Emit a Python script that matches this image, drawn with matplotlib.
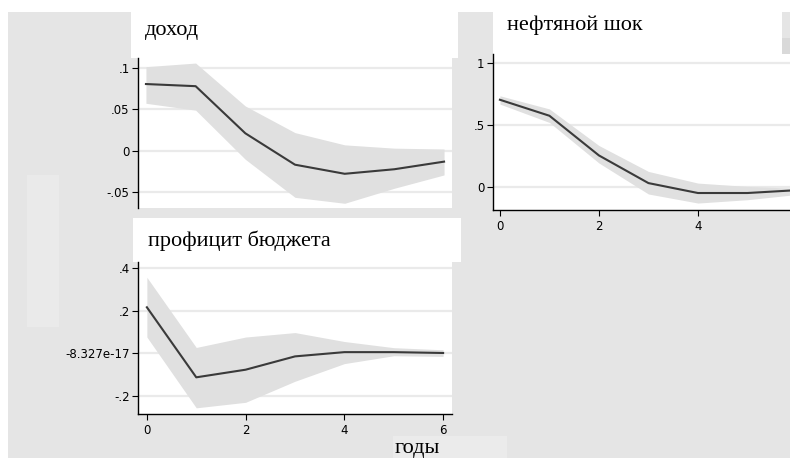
import numpy as np
import matplotlib.pyplot as plt
from matplotlib.patches import Rectangle

W, H = 790, 458

steps = [0, 1, 2, 3, 4, 5, 6]

# доход
income_irf = [0.0806, 0.078, 0.021, -0.017, -0.028, -0.0225, -0.0133]
income_hi = [0.1016, 0.106, 0.054, 0.0218, 0.007, 0.003, 0.002]
income_lo = [0.0573, 0.049, -0.0105, -0.0565, -0.0637, -0.0455, -0.0294]

# нефтяной шок
oil_irf = [0.704, 0.575, 0.255, 0.032, -0.048, -0.048, -0.025]
oil_hi = [0.736, 0.63, 0.335, 0.126, 0.032, 0.005, -0.01]
oil_lo = [0.669, 0.521, 0.194, -0.056, -0.129, -0.102, -0.06]

# профицит бюджета
surplus_irf = [0.217, -0.1125, -0.0766, -0.014, 0.006, 0.006, 0.002]
surplus_hi = [0.358, 0.028, 0.077, 0.098, 0.056, 0.027, 0.017]
surplus_lo = [0.077, -0.256, -0.23, -0.131, -0.048, -0.011, -0.014]

income_yticks = [0.1, 0.05, 0.0, -0.05]
income_ylabels = [".1", ".05", "0", "-.05"]
oil_yticks = [1.0, 0.5, 0.0]
oil_ylabels = ["1", ".5", "0"]
oil_xticks = [0, 2, 4]
surplus_yticks = [0.4, 0.2, -8.327e-17, -0.2]
surplus_ylabels = [".4", ".2", "-8.327e-17", "-.2"]
surplus_xticks = [0, 2, 4, 6]

BG = "#e5e5e5"
BAND = "#e0e0e0"
GRID = "#eaeaea"
LINE = "#3a3a3a"
TICK_FONT = dict(fontsize=8.5, family="DejaVu Sans")


def box(x0, y0, x1, y1):
    # pixel box (top-left origin) -> figure fraction rect
    return [x0 / W, 1 - y1 / H, (x1 - x0) / W, (y1 - y0) / H]


def add_rect(fig, x0, y0, x1, y1, color):
    l, b, w, h = box(x0, y0, x1, y1)
    fig.add_artist(Rectangle((l, b), w, h, transform=fig.transFigure,
                             facecolor=color, edgecolor="none", zorder=-5))


def panel(fig, rect, irf, lo, hi, xlim, ylim, yticks, ylabels, xticks):
    ax = fig.add_axes(box(*rect))
    ax.set_facecolor("white")
    ax.fill_between(steps, lo, hi, color=BAND, linewidth=0, zorder=1)
    ax.plot(steps, irf, color=LINE, linewidth=1.5, zorder=3)
    for t in yticks:
        ax.axhline(t, color=GRID, linewidth=1.6, zorder=0)
    ax.set_xlim(*xlim)
    ax.set_ylim(*ylim)
    ax.set_yticks(yticks)
    ax.set_yticklabels(ylabels, **TICK_FONT)
    for s in ["top", "right"]:
        ax.spines[s].set_visible(False)
    ax.spines["left"].set_linewidth(1.0)
    ax.tick_params(axis="y", direction="out", length=4, width=0.8, pad=2)
    if xticks:
        ax.set_xticks(xticks)
        ax.set_xticklabels([str(t) for t in xticks], **TICK_FONT)
        ax.tick_params(axis="x", direction="out", length=4, width=0.8, pad=3)
        ax.spines["bottom"].set_linewidth(1.0)
    else:
        ax.set_xticks([])
        ax.spines["bottom"].set_visible(False)
    return ax


fig = plt.figure(figsize=(W / 100, H / 100), dpi=100)
fig.patch.set_facecolor("white")

# background pieces
add_rect(fig, 8, 12, 790, 458, BG)
add_rect(fig, 27, 175, 59, 327, "#eaeaea")
add_rect(fig, 782, 38, 790, 55, "#d9d9d9")
add_rect(fig, 131, 0, 458, 58, "white")
add_rect(fig, 493, 0, 782, 54, "white")
add_rect(fig, 133, 218, 461, 262, "white")
add_rect(fig, 393, 436, 507, 458, "#ebebeb")

panel(fig, (138, 58, 452, 208), income_irf, income_lo, income_hi,
      (-0.16, 6.16), (-0.0694, 0.1121), income_yticks, income_ylabels, [])
panel(fig, (493, 54, 790, 210), oil_irf, oil_lo, oil_hi,
      (-0.14, 5.86), (-0.185, 1.073), oil_yticks, oil_ylabels, oil_xticks)
panel(fig, (138, 262, 452, 414), surplus_irf, surplus_lo, surplus_hi,
      (-0.18, 6.18), (-0.285, 0.43), surplus_yticks, surplus_ylabels, surplus_xticks)

title_kw = dict(fontsize=16, family="Liberation Serif", va="center", ha="left")
fig.text(145 / W, 1 - 30 / H, "доход", **title_kw)
fig.text(507 / W, 1 - 25 / H, "нефтяной шок", **title_kw)
fig.text(148 / W, 1 - 241 / H, "профицит бюджета", **title_kw)
fig.text(395 / W, 1 - 448 / H, "годы", **title_kw)

fig.savefig("out.png", dpi=100)
